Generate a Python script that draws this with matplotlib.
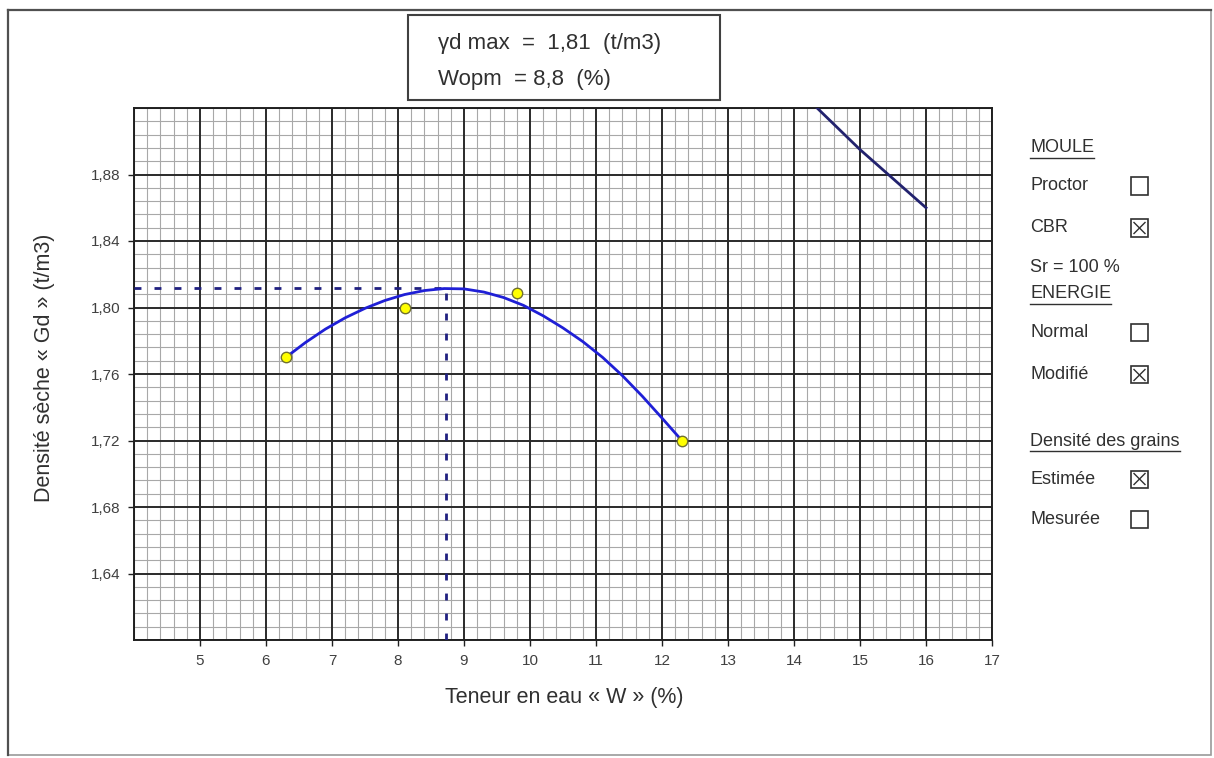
import matplotlib
matplotlib.use("Agg")
import matplotlib.pyplot as plt
from matplotlib.patches import Rectangle
from matplotlib.lines import Line2D
from matplotlib.ticker import MultipleLocator

plt.rcParams['font.family'] = ['Liberation Sans', 'DejaVu Sans']

# ---- data ----
point_w = [6.3, 8.1, 9.8, 12.3]
point_gd = [1.770, 1.800, 1.809, 1.720]

curve_w = [6.3, 6.6, 6.9, 7.2, 7.5, 7.8, 8.1, 8.4, 8.7, 9.0, 9.3, 9.6, 9.9,
           10.2, 10.5, 10.8, 11.1, 11.4, 11.7, 12.0, 12.3]
curve_gd = [1.7700, 1.7790, 1.7870, 1.7938, 1.7995, 1.8042, 1.8078, 1.8102, 1.8114,
            1.8112, 1.8093, 1.8060, 1.8013, 1.7950, 1.7877, 1.7795, 1.7700, 1.7590,
            1.7467, 1.7335, 1.7200]

sat_w = [14.35, 15.0, 16.0]
sat_gd = [1.92, 1.895, 1.86]

opt_w = 8.72
opt_gd = 1.812

x_ticks = [5, 6, 7, 8, 9, 10, 11, 12, 13, 14, 15, 16, 17]
x_tick_labels = ['5', '6', '7', '8', '9', '10', '11', '12', '13', '14', '15', '16', '17']
y_ticks = [1.64, 1.68, 1.72, 1.76, 1.80, 1.84, 1.88]
y_tick_labels = ['1,64', '1,68', '1,72', '1,76', '1,80', '1,84', '1,88']

title_lines = ['γd max  =  1,81  (t/m3)', 'Wopm  = 8,8  (%)']
xlabel = 'Teneur en eau « W » (%)'
ylabel = 'Densité sèche « Gd » (t/m3)'

panel_items = [
    ('MOULE', 'header', None),
    ('Proctor', 'box', False),
    ('CBR', 'box', True),
    ('Sr = 100 %', 'text', None),
    ('ENERGIE', 'header', None),
    ('Normal', 'box', False),
    ('Modifié', 'box', True),
    ('Densité des grains', 'header', None),
    ('Estimée', 'box', True),
    ('Mesurée', 'box', False),
]
panel_y = [148, 186, 228, 268, 294, 333, 375, 441, 479, 519]

# ---- figure ----
W, H = 1214, 758
fig = plt.figure(figsize=(W / 100, H / 100), dpi=100)
fig.patch.set_facecolor('white')

def fx(x):
    return x / W

def fy(y):
    return 1 - y / H

# outer border
fig.add_artist(Rectangle((fx(8), fy(755)), fx(1211) - fx(8), fy(10) - fy(755),
                         transform=fig.transFigure, fill=False, edgecolor='#9a9a9a', lw=1.2))
fig.add_artist(Line2D([fx(8), fx(8)], [fy(755), fy(10)], transform=fig.transFigure, color='#505050', lw=1.6))
fig.add_artist(Line2D([fx(8), fx(1211)], [fy(10), fy(10)], transform=fig.transFigure, color='#505050', lw=1.6))

ax = fig.add_axes([fx(134), fy(640), fx(992) - fx(134), fy(108) - fy(640)])
ax.set_xlim(4, 17)
ax.set_ylim(1.60, 1.92)

ax.xaxis.set_minor_locator(MultipleLocator(0.2))
ax.yaxis.set_minor_locator(MultipleLocator(0.008))
ax.grid(which='minor', color='#a8a8a8', lw=0.8)
ax.set_axisbelow(True)

ax.set_xticks(x_ticks)
ax.set_xticklabels(x_tick_labels)
ax.set_yticks(y_ticks)
ax.set_yticklabels(y_tick_labels)
for xv in range(4, 18):
    ax.axvline(xv, color='#2a2a2a', lw=1.4, zorder=0.6)
for yv in [1.60, 1.64, 1.68, 1.72, 1.76, 1.80, 1.84, 1.88, 1.92]:
    ax.axhline(yv, color='#2a2a2a', lw=1.4, zorder=0.6)

ax.tick_params(which='major', direction='out', length=4, width=1, color='#202020',
               labelsize=11, labelcolor='#404040', pad=6)
ax.tick_params(which='minor', length=0)
for sp in ax.spines.values():
    sp.set_color('#202020')
    sp.set_linewidth(1.4)

ax.set_xlabel(xlabel, fontsize=15.5, color='#303030', va='center')
ax.set_ylabel(ylabel, fontsize=15.5, color='#303030', va='center')
ax.xaxis.set_label_coords((564 - 134) / 858, (640 - 698) / 532)
ax.yaxis.set_label_coords((45 - 134) / 858, (640 - 368) / 532)

# dashed optimum lines
ax.plot([4, opt_w], [opt_gd, opt_gd], color='#202080', lw=2.0, dashes=(2.5, 4.7), zorder=3)
ax.plot([opt_w, opt_w], [1.60, opt_gd], color='#202080', lw=2.0, dashes=(2.5, 4.7), zorder=3)

# saturation line
ax.plot(sat_w, sat_gd, color='#22226e', lw=2.0, zorder=3)

# compaction curve
ax.plot(curve_w, curve_gd, color='#1f1fd6', lw=2.0, zorder=4)
ax.plot(point_w, point_gd, 'o', markersize=7.5, markerfacecolor='#ffff00',
        markeredgecolor='#707030', markeredgewidth=1.0, zorder=5, linestyle='none')

# title box
fig.add_artist(Rectangle((fx(408), fy(100)), fx(720) - fx(408), fy(15) - fy(100),
                         transform=fig.transFigure, facecolor='white', edgecolor='#404040', lw=1.5))
fig.text(fx(438), fy(44), title_lines[0], fontsize=16, color='#303030', va='center', ha='left')
fig.text(fx(438), fy(80), title_lines[1], fontsize=16, color='#303030', va='center', ha='left')

# right panel
renderer = fig.canvas.get_renderer()
for (label, kind, checked), yc in zip(panel_items, panel_y):
    t = fig.text(fx(1030), fy(yc), label, fontsize=13, color='#303030', va='center', ha='left')
    if kind == 'header':
        bb = t.get_window_extent(renderer)
        fig.add_artist(Line2D([bb.x0 / W, bb.x1 / W], [(bb.y0 - 1) / H, (bb.y0 - 1) / H],
                              transform=fig.transFigure, color='#303030', lw=1.0))
    if kind == 'box':
        s = 17
        x0, y0 = 1131, yc - s / 2
        fig.add_artist(Rectangle((fx(x0), fy(y0 + s)), s / W, s / H, transform=fig.transFigure,
                                 fill=False, edgecolor='#303030', lw=1.2))
        if checked:
            m = 3
            fig.add_artist(Line2D([fx(x0 + m), fx(x0 + s - m)], [fy(y0 + m), fy(y0 + s - m)],
                                  transform=fig.transFigure, color='#303030', lw=1.0))
            fig.add_artist(Line2D([fx(x0 + m), fx(x0 + s - m)], [fy(y0 + s - m), fy(y0 + m)],
                                  transform=fig.transFigure, color='#303030', lw=1.0))

fig.savefig('out.png', dpi=100)
